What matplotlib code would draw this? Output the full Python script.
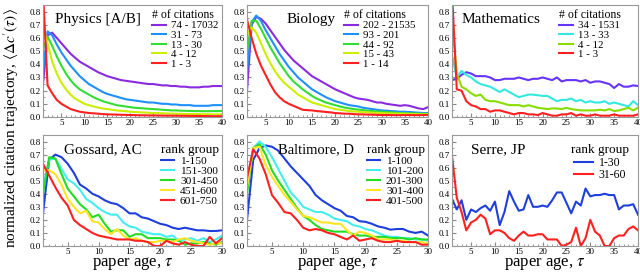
import numpy as np
import matplotlib
matplotlib.use("Agg")
import matplotlib.pyplot as plt
from matplotlib.ticker import MultipleLocator

plt.rcParams['font.family'] = ['Liberation Serif', 'DejaVu Serif']
plt.rcParams['mathtext.fontset'] = 'stix'

# ---------------- data ----------------
x40 = list(range(1, 41))
x30 = list(range(1, 31))

phys_labels = ["74 - 17032", "31 - 73", "13 - 30", "4 - 12", "1 - 3"]
phys_purple = [0.25,0.62,0.64,0.60,0.56,0.52,0.48,0.45,0.42,0.40,0.38,0.36,0.34,0.325,0.31,0.30,0.29,0.28,0.275,0.27,0.265,0.26,0.255,0.25,0.25,0.245,0.24,0.24,0.235,0.235,0.23,0.23,0.225,0.225,0.225,0.23,0.23,0.235,0.235,0.235]
phys_blue = [0.35,0.65,0.62,0.55,0.49,0.44,0.39,0.35,0.31,0.28,0.25,0.23,0.21,0.19,0.175,0.165,0.155,0.145,0.135,0.13,0.125,0.12,0.115,0.11,0.11,0.105,0.10,0.10,0.095,0.095,0.09,0.09,0.09,0.085,0.085,0.085,0.085,0.09,0.09,0.09]
phys_green = [0.52,0.61,0.54,0.46,0.39,0.33,0.28,0.24,0.21,0.19,0.17,0.15,0.135,0.12,0.11,0.10,0.09,0.085,0.08,0.075,0.07,0.068,0.065,0.062,0.06,0.058,0.055,0.053,0.05,0.05,0.048,0.047,0.046,0.045,0.045,0.044,0.044,0.045,0.045,0.046]
phys_yellow = [0.68,0.56,0.42,0.33,0.26,0.21,0.17,0.14,0.12,0.10,0.09,0.08,0.072,0.065,0.06,0.055,0.05,0.047,0.044,0.04,0.038,0.036,0.034,0.032,0.03,0.029,0.028,0.027,0.026,0.025,0.024,0.023,0.023,0.022,0.022,0.021,0.021,0.02,0.02,0.02]
phys_red = [0.95,0.24,0.18,0.13,0.10,0.08,0.06,0.05,0.04,0.035,0.03,0.028,0.025,0.022,0.02,0.019,0.018,0.017,0.016,0.015,0.014,0.013,0.013,0.012,0.012,0.011,0.011,0.01,0.01,0.01,0.009,0.009,0.008,0.008,0.008,0.007,0.007,0.006,0.006,0.006]

bio_labels = ["202 - 21535", "93 - 201", "44 - 92", "15 - 43", "1 - 14"]
bio_purple = [0.20,0.70,0.76,0.745,0.71,0.66,0.61,0.56,0.51,0.47,0.43,0.40,0.37,0.34,0.31,0.29,0.27,0.25,0.23,0.21,0.195,0.18,0.165,0.15,0.14,0.135,0.13,0.12,0.11,0.11,0.10,0.095,0.09,0.085,0.09,0.085,0.075,0.065,0.06,0.075]
bio_blue = [0.35,0.72,0.77,0.73,0.66,0.60,0.54,0.48,0.43,0.38,0.34,0.30,0.27,0.24,0.21,0.19,0.17,0.15,0.135,0.12,0.11,0.10,0.09,0.085,0.08,0.07,0.065,0.06,0.055,0.05,0.048,0.045,0.043,0.04,0.04,0.038,0.035,0.033,0.03,0.03]
bio_green = [0.50,0.73,0.73,0.67,0.60,0.53,0.47,0.41,0.36,0.31,0.27,0.24,0.21,0.185,0.16,0.14,0.125,0.11,0.10,0.09,0.08,0.072,0.066,0.06,0.056,0.052,0.048,0.045,0.042,0.04,0.038,0.035,0.033,0.03,0.03,0.028,0.027,0.026,0.025,0.025]
bio_yellow = [0.62,0.68,0.64,0.56,0.48,0.41,0.35,0.30,0.26,0.23,0.20,0.17,0.15,0.13,0.11,0.10,0.09,0.08,0.07,0.06,0.055,0.05,0.045,0.042,0.04,0.037,0.035,0.033,0.031,0.03,0.028,0.027,0.026,0.025,0.024,0.023,0.022,0.021,0.02,0.02]
bio_red = [0.74,0.60,0.48,0.39,0.32,0.25,0.19,0.15,0.12,0.10,0.085,0.07,0.055,0.052,0.05,0.045,0.042,0.038,0.035,0.03,0.028,0.025,0.025,0.022,0.02,0.02,0.018,0.018,0.016,0.015,0.015,0.015,0.014,0.014,0.015,0.015,0.014,0.014,0.015,0.015]

math_labels = ["34 - 1531", "13 - 33", "4 - 12", "1 - 3"]
math_purple = [0.28,0.29,0.32,0.34,0.33,0.31,0.31,0.31,0.30,0.28,0.28,0.29,0.29,0.29,0.30,0.29,0.28,0.29,0.29,0.30,0.29,0.28,0.30,0.27,0.28,0.28,0.28,0.27,0.28,0.26,0.27,0.27,0.26,0.25,0.22,0.25,0.23,0.23,0.24,0.235]
math_cyan = [0.47,0.30,0.35,0.32,0.30,0.27,0.25,0.24,0.23,0.21,0.19,0.21,0.19,0.17,0.15,0.16,0.17,0.17,0.165,0.16,0.16,0.14,0.12,0.13,0.13,0.14,0.12,0.13,0.11,0.12,0.11,0.11,0.12,0.10,0.11,0.10,0.09,0.08,0.12,0.09]
math_green = [0.75,0.33,0.23,0.21,0.18,0.16,0.17,0.13,0.12,0.12,0.11,0.10,0.09,0.09,0.09,0.08,0.09,0.08,0.07,0.065,0.06,0.065,0.065,0.06,0.07,0.06,0.055,0.05,0.05,0.05,0.05,0.055,0.05,0.06,0.045,0.05,0.06,0.07,0.05,0.07]
math_red = [0.95,0.21,0.20,0.12,0.09,0.08,0.06,0.06,0.04,0.05,0.05,0.04,0.03,0.02,0.03,0.03,0.02,0.02,0.015,0.03,0.02,0.01,0.01,0.02,0.02,0.03,0.01,0.02,0.01,0.01,0.02,0.01,0.01,0.01,0.02,0.01,0.01,0.01,0.01,0.02]

goss_labels = ["1-150", "151-300", "301-450", "451-600", "601-750"]
goss_blue = [0.25,0.66,0.70,0.68,0.63,0.56,0.47,0.44,0.40,0.38,0.35,0.33,0.32,0.29,0.25,0.25,0.22,0.21,0.19,0.17,0.16,0.14,0.13,0.14,0.13,0.12,0.12,0.115,0.115,0.12]
goss_cyan = [0.45,0.66,0.67,0.59,0.51,0.48,0.43,0.36,0.33,0.29,0.26,0.24,0.24,0.18,0.15,0.14,0.11,0.10,0.09,0.09,0.07,0.08,0.04,0.05,0.06,0.04,0.06,0.03,0.05,0.08]
goss_green = [0.40,0.68,0.67,0.55,0.44,0.38,0.32,0.28,0.22,0.24,0.17,0.11,0.12,0.12,0.07,0.09,0.09,0.06,0.06,0.06,0.05,0.05,0.04,0.01,0.02,0.02,0.03,0.02,0.01,0.03]
goss_yellow = [0.58,0.58,0.55,0.47,0.36,0.30,0.25,0.27,0.19,0.18,0.13,0.09,0.13,0.08,0.05,0.06,0.04,0.03,0.03,0.04,0.04,0.03,0.05,0.06,0.04,0.03,0.02,0.01,0.02,0.02]
goss_red = [0.63,0.54,0.45,0.37,0.31,0.20,0.16,0.13,0.10,0.08,0.07,0.06,0.05,0.05,0.05,0.04,0.04,0.03,0.00,0.00,0.04,0.02,0.01,0.03,0.01,0.00,0.00,0.07,0.02,0.06]

balt_labels = ["1-100", "101-200", "201-300", "301-400", "401-500"]
balt_blue = [0.20,0.66,0.75,0.77,0.76,0.73,0.67,0.61,0.56,0.51,0.46,0.39,0.35,0.32,0.29,0.27,0.23,0.22,0.19,0.185,0.17,0.15,0.14,0.125,0.13,0.13,0.11,0.10,0.11,0.08]
balt_cyan = [0.50,0.75,0.80,0.76,0.68,0.59,0.50,0.41,0.36,0.30,0.28,0.26,0.26,0.24,0.21,0.20,0.19,0.16,0.15,0.13,0.12,0.10,0.08,0.07,0.07,0.06,0.06,0.05,0.05,0.04]
balt_green = [0.40,0.75,0.78,0.70,0.58,0.50,0.43,0.36,0.29,0.23,0.20,0.16,0.13,0.12,0.11,0.11,0.11,0.09,0.08,0.08,0.07,0.07,0.07,0.06,0.06,0.06,0.05,0.06,0.05,0.05]
balt_yellow = [0.45,0.75,0.76,0.62,0.53,0.46,0.39,0.34,0.28,0.23,0.22,0.20,0.18,0.18,0.17,0.17,0.12,0.08,0.11,0.10,0.08,0.05,0.05,0.05,0.04,0.04,0.03,0.03,0.03,0.02]
balt_red = [0.52,0.74,0.67,0.55,0.39,0.33,0.26,0.25,0.20,0.14,0.12,0.13,0.12,0.10,0.09,0.07,0.05,0.08,0.04,0.05,0.06,0.04,0.03,0.03,0.04,0.03,0.03,0.03,0.01,0.01]

serre_labels = ["1-30", "31-60"]
serre_blue = [0.36,0.28,0.35,0.20,0.28,0.26,0.29,0.31,0.27,0.34,0.16,0.26,0.42,0.34,0.27,0.28,0.39,0.30,0.30,0.31,0.30,0.35,0.41,0.41,0.33,0.25,0.34,0.31,0.44,0.38,0.39,0.39,0.40,0.39,0.39,0.28,0.31,0.31,0.32,0.24]
serre_red = [0.69,0.37,0.26,0.12,0.18,0.20,0.24,0.21,0.09,0.12,0.12,0.10,0.06,0.04,0.08,0.11,0.08,0.08,0.09,0.09,0.05,0.05,0.05,0.00,0.01,0.03,0.14,0.00,0.06,0.20,0.11,0.08,0.00,0.00,0.06,0.08,0.08,0.13,0.15,0.12]

# ---------------- styling ----------------
c_top5 = ["#8a2be2", "#1e90ff", "#33dd33", "#ccee00", "#ff2020"]
c_math = ["#6633ff", "#33e8e0", "#88dd00", "#ff2020"]
c_bot5 = ["#1f3fdd", "#44eeee", "#22dd22", "#ffe422", "#ff2020"]
c_serre = ["#1f3fdd", "#ff2020"]

fig = plt.figure(figsize=(6.4, 2.73), dpi=100)
W, H = 640.0, 273.0
cols = [(43, 222), (247, 428), (452, 638)]
rows = [(5, 117), (135, 246)]

def make_ax(r, c):
    (x0, x1), (y0, y1) = cols[c], rows[r]
    return fig.add_axes([x0 / W, 1 - y1 / H, (x1 - x0) / W, (y1 - y0) / H])

panels = [
    (0, 0, "Physics [A/B]", x40, [phys_purple, phys_blue, phys_green, phys_yellow, phys_red], phys_labels, c_top5, "# of citations"),
    (0, 1, "Biology", x40, [bio_purple, bio_blue, bio_green, bio_yellow, bio_red], bio_labels, c_top5, "# of citations"),
    (0, 2, "Mathematics", x40, [math_purple, math_cyan, math_green, math_red], math_labels, c_math, "# of citations"),
    (1, 0, "Gossard, AC", x30, [goss_blue, goss_cyan, goss_green, goss_yellow, goss_red], goss_labels, c_bot5, "rank group"),
    (1, 1, "Baltimore, D", x30, [balt_blue, balt_cyan, balt_green, balt_yellow, balt_red], balt_labels, c_bot5, "rank group"),
    (1, 2, "Serre, JP", x40, [serre_blue, serre_red], serre_labels, c_serre, "rank group"),
]

title_pos = {
    (0, 0): (0.065, 0.93), (0, 1): (0.22, 0.93), (0, 2): (0.05, 0.93),
    (1, 0): (0.12, 0.93), (1, 1): (0.17, 0.93), (1, 2): (0.10, 0.93),
}
legend_x = {(0, 0): 1.0, (0, 1): 0.95, (0, 2): 0.93,
            (1, 0): 1.0, (1, 1): 1.0, (1, 2): 0.97}

for r, c, name, xs, series, labels, colors, ltitle in panels:
    ax = make_ax(r, c)
    for ys, lab, col in zip(series, labels, colors):
        ax.plot(xs, ys, color=col, lw=1.5, label=lab)
    ax.set_xlim(1, xs[-1])
    ax.set_ylim(0, 0.85)
    ax.xaxis.set_major_locator(MultipleLocator(5))
    ax.xaxis.set_minor_locator(MultipleLocator(1))
    ax.yaxis.set_major_locator(MultipleLocator(0.1))
    ax.yaxis.set_minor_locator(MultipleLocator(0.05))
    ax.set_yticklabels([f"{v:.1f}" for v in ax.get_yticks()])
    ax.tick_params(which='both', direction='in', labelsize=6.5, pad=1.5, color='#888888')
    ax.tick_params(which='major', length=3)
    ax.tick_params(which='minor', length=1.5)
    for s in ax.spines.values():
        s.set_color('#999999')
        s.set_linewidth(0.8)
    tx, ty = title_pos[(r, c)]
    fs = 10.5 if (r, c) == (1, 1) else 11
    ax.text(tx, ty, name, transform=ax.transAxes, fontsize=fs, va='top', ha='left')
    lx = legend_x[(r, c)]
    if r == 0:
        leg = ax.legend(loc='upper right', bbox_to_anchor=(lx, 1.0), frameon=False,
                        fontsize=7.8, title=ltitle,
                        title_fontsize=8.5, handlelength=1.3, handletextpad=0.4,
                        labelspacing=0.0, borderaxespad=0.15, borderpad=0.2)
        leg._legend_box.align = "left"
    elif c < 2:
        leg = ax.legend(loc='upper right', bbox_to_anchor=(lx, 0.95), frameon=False,
                        fontsize=8.2, title=ltitle, title_fontsize=9.5,
                        handlelength=1.2, handletextpad=0.5, labelspacing=0.0,
                        borderaxespad=0.1, borderpad=0.2)
        leg._legend_box.align = "left"
    else:
        leg = ax.legend(loc='upper right', bbox_to_anchor=(lx, 0.95), frameon=False,
                        fontsize=8.5, title=ltitle, title_fontsize=9.5,
                        handlelength=1.6, handletextpad=0.5, labelspacing=0.05,
                        borderaxespad=0.1, borderpad=0.2)
    if r == 1:
        ax.set_xlabel(r"paper age, $\tau$", fontsize=12, labelpad=-1)

fig.text(0.018, 0.53, r"normalized citation trajectory, $\langle\Delta c^{\prime}(\tau)\rangle$",
         rotation=90, va='center', ha='center', fontsize=11)

fig.savefig("out.png", dpi=100)
